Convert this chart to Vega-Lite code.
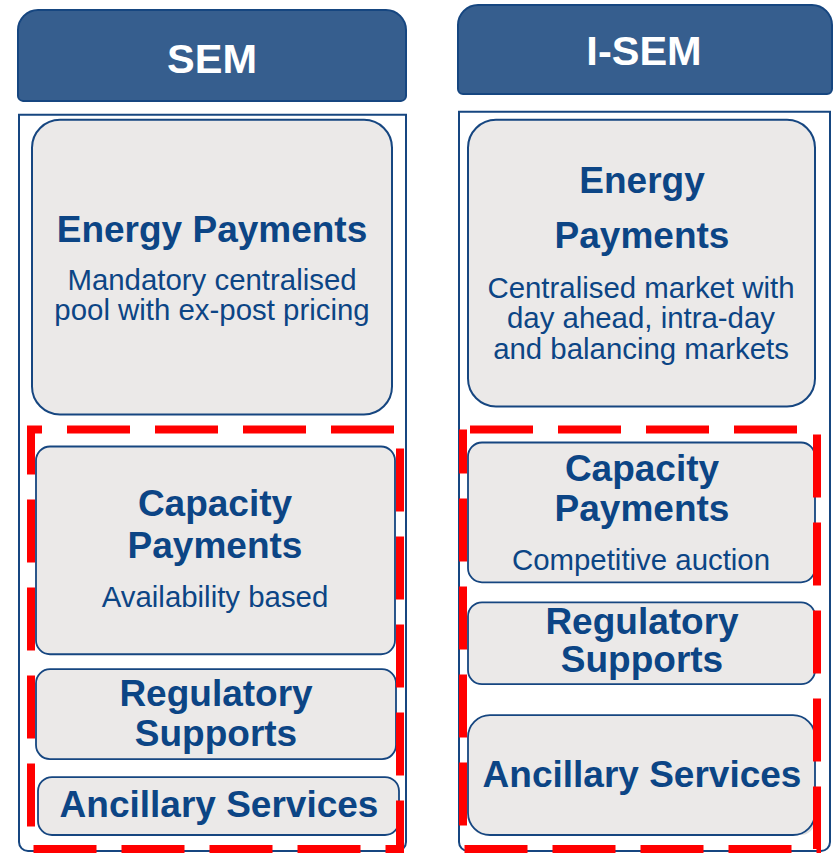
{
  "$schema": "https://vega.github.io/schema/vega-lite/v6.json",
  "width": 833,
  "height": 853,
  "padding": 0,
  "autosize": {"type": "fit", "contains": "padding"},
  "background": "white",
  "config": {"view": {"stroke": null}},
  "datasets": {
    "boxes": [
      {"kind": "header", "name": "SEM", "x": 18, "x2": 406, "y": 10, "y2": 101},
      {"kind": "header", "name": "I-SEM", "x": 458, "x2": 832, "y": 5, "y2": 94},
      {"kind": "outer", "name": "SEM", "x": 19, "x2": 406, "y": 115, "y2": 852},
      {"kind": "outer", "name": "I-SEM", "x": 459, "x2": 830, "y": 112, "y2": 852},
      {"kind": "energy", "name": "SEM", "x": 32, "x2": 392, "y": 120, "y2": 415},
      {"kind": "energy", "name": "I-SEM", "x": 468, "x2": 815, "y": 120, "y2": 407},
      {"kind": "inner", "name": "SEM Capacity", "x": 36, "x2": 395, "y": 447, "y2": 655},
      {"kind": "inner", "name": "SEM Regulatory", "x": 36, "x2": 396, "y": 670, "y2": 760},
      {"kind": "inner", "name": "SEM Ancillary", "x": 38, "x2": 399, "y": 778, "y2": 836},
      {"kind": "inner", "name": "I-SEM Capacity", "x": 468, "x2": 815, "y": 443, "y2": 583},
      {"kind": "inner", "name": "I-SEM Regulatory", "x": 468, "x2": 815, "y": 603, "y2": 685},
      {"kind": "innerbig", "name": "I-SEM Ancillary", "x": 468, "x2": 815, "y": 716, "y2": 836},
      {"kind": "redL", "name": "SEM", "x": 31, "x2": 400, "y": 430, "y2": 850},
      {"kind": "redR", "name": "I-SEM", "x": 463, "x2": 817, "y": 430, "y2": 850}
    ],
    "labels": [
      {"kind": "head", "label": "SEM", "x": 212, "y": 73},
      {"kind": "head", "label": "I-SEM", "x": 644, "y": 65},
      {"kind": "title", "label": "Energy Payments", "x": 212, "y": 242},
      {"kind": "title", "label": "Capacity", "x": 215, "y": 517},
      {"kind": "title", "label": "Payments", "x": 215, "y": 559},
      {"kind": "title", "label": "Regulatory", "x": 216, "y": 707},
      {"kind": "title", "label": "Supports", "x": 216, "y": 747},
      {"kind": "title", "label": "Ancillary Services", "x": 219, "y": 818},
      {"kind": "title", "label": "Energy", "x": 642, "y": 193},
      {"kind": "title", "label": "Payments", "x": 642, "y": 248},
      {"kind": "title", "label": "Capacity", "x": 642, "y": 482},
      {"kind": "title", "label": "Payments", "x": 642, "y": 522},
      {"kind": "title", "label": "Regulatory", "x": 642, "y": 635},
      {"kind": "title", "label": "Supports", "x": 642, "y": 673},
      {"kind": "title", "label": "Ancillary Services", "x": 642, "y": 788},
      {"kind": "sub", "label": "Mandatory centralised", "x": 212, "y": 290},
      {"kind": "sub", "label": "pool with ex-post pricing", "x": 212, "y": 320},
      {"kind": "sub", "label": "Availability based", "x": 215, "y": 608},
      {"kind": "sub", "label": "Centralised market with", "x": 641, "y": 298},
      {"kind": "sub", "label": "day ahead, intra-day", "x": 641, "y": 328},
      {"kind": "sub", "label": "and balancing markets", "x": 641, "y": 359},
      {"kind": "sub", "label": "Competitive auction", "x": 641, "y": 571}
    ]
  },
  "encoding": {
    "x": {"field": "x", "type": "quantitative", "scale": {"domain": [0, 833], "nice": false, "zero": false}, "axis": null},
    "y": {"field": "y", "type": "quantitative", "scale": {"domain": [0, 853], "nice": false, "zero": false, "reverse": true}, "axis": null}
  },
  "layer": [
    {
      "data": {"name": "boxes"},
      "transform": [{"filter": "datum.kind === 'header'"}],
      "mark": {"type": "rect", "fill": "#365E8E", "stroke": "#164680", "strokeWidth": 2, "cornerRadiusTopLeft": 20, "cornerRadiusTopRight": 20, "cornerRadiusBottomLeft": 5, "cornerRadiusBottomRight": 5},
      "encoding": {"x2": {"field": "x2"}, "y2": {"field": "y2"}}
    },
    {
      "data": {"name": "boxes"},
      "transform": [{"filter": "datum.kind === 'outer'"}],
      "mark": {"type": "rect", "fill": "white", "stroke": "#164680", "strokeWidth": 2, "cornerRadiusBottomLeft": 9, "cornerRadiusBottomRight": 9},
      "encoding": {"x2": {"field": "x2"}, "y2": {"field": "y2"}}
    },
    {
      "data": {"name": "boxes"},
      "transform": [{"filter": "datum.kind === 'energy'"}],
      "mark": {"type": "rect", "fill": "#000000", "opacity": 0.12, "cornerRadius": 28, "xOffset": 3, "yOffset": 4},
      "encoding": {"x2": {"field": "x2"}, "y2": {"field": "y2"}}
    },
    {
      "data": {"name": "boxes"},
      "transform": [{"filter": "datum.kind === 'energy'"}],
      "mark": {"type": "rect", "fill": "#EBE9E8", "stroke": "#164680", "strokeWidth": 2, "cornerRadius": 28},
      "encoding": {"x2": {"field": "x2"}, "y2": {"field": "y2"}}
    },
    {
      "data": {"name": "boxes"},
      "transform": [{"filter": "datum.kind === 'inner' || datum.kind === 'innerbig'"}],
      "mark": {"type": "rect", "fill": "#000000", "opacity": 0.12, "cornerRadius": 14, "xOffset": 3, "yOffset": 4},
      "encoding": {"x2": {"field": "x2"}, "y2": {"field": "y2"}}
    },
    {
      "data": {"name": "boxes"},
      "transform": [{"filter": "datum.kind === 'inner'"}],
      "mark": {"type": "rect", "fill": "#EBE9E8", "stroke": "#164680", "strokeWidth": 1.8, "cornerRadius": 14},
      "encoding": {"x2": {"field": "x2"}, "y2": {"field": "y2"}}
    },
    {
      "data": {"name": "boxes"},
      "transform": [{"filter": "datum.kind === 'innerbig'"}],
      "mark": {"type": "rect", "fill": "#EBE9E8", "stroke": "#164680", "strokeWidth": 1.8, "cornerRadius": 22},
      "encoding": {"x2": {"field": "x2"}, "y2": {"field": "y2"}}
    },
    {
      "data": {"name": "boxes"},
      "transform": [{"filter": "datum.kind === 'redL'"}],
      "mark": {"type": "rect", "fill": null, "fillOpacity": 0, "stroke": "#FF0000", "strokeWidth": 8, "strokeDash": [63, 25], "strokeDashOffset": 52},
      "encoding": {"x2": {"field": "x2"}, "y2": {"field": "y2"}}
    },
    {
      "data": {"name": "boxes"},
      "transform": [{"filter": "datum.kind === 'redR'"}],
      "mark": {"type": "rect", "fill": null, "fillOpacity": 0, "stroke": "#FF0000", "strokeWidth": 8, "strokeDash": [63, 25], "strokeDashOffset": 81},
      "encoding": {"x2": {"field": "x2"}, "y2": {"field": "y2"}}
    },
    {
      "data": {"name": "labels"},
      "transform": [{"filter": "datum.kind === 'head'"}],
      "mark": {"type": "text", "font": "Liberation Sans", "fontWeight": "bold", "fontSize": 41.5, "color": "white", "align": "center", "baseline": "alphabetic"},
      "encoding": {"text": {"field": "label"}}
    },
    {
      "data": {"name": "labels"},
      "transform": [{"filter": "datum.kind === 'title'"}],
      "mark": {"type": "text", "font": "Liberation Sans", "fontWeight": "bold", "fontSize": 37, "color": "#0C4585", "align": "center", "baseline": "alphabetic"},
      "encoding": {"text": {"field": "label"}}
    },
    {
      "data": {"name": "labels"},
      "transform": [{"filter": "datum.kind === 'sub'"}],
      "mark": {"type": "text", "font": "Liberation Sans", "fontSize": 29.4, "color": "#0C4585", "align": "center", "baseline": "alphabetic"},
      "encoding": {"text": {"field": "label"}}
    }
  ]
}
